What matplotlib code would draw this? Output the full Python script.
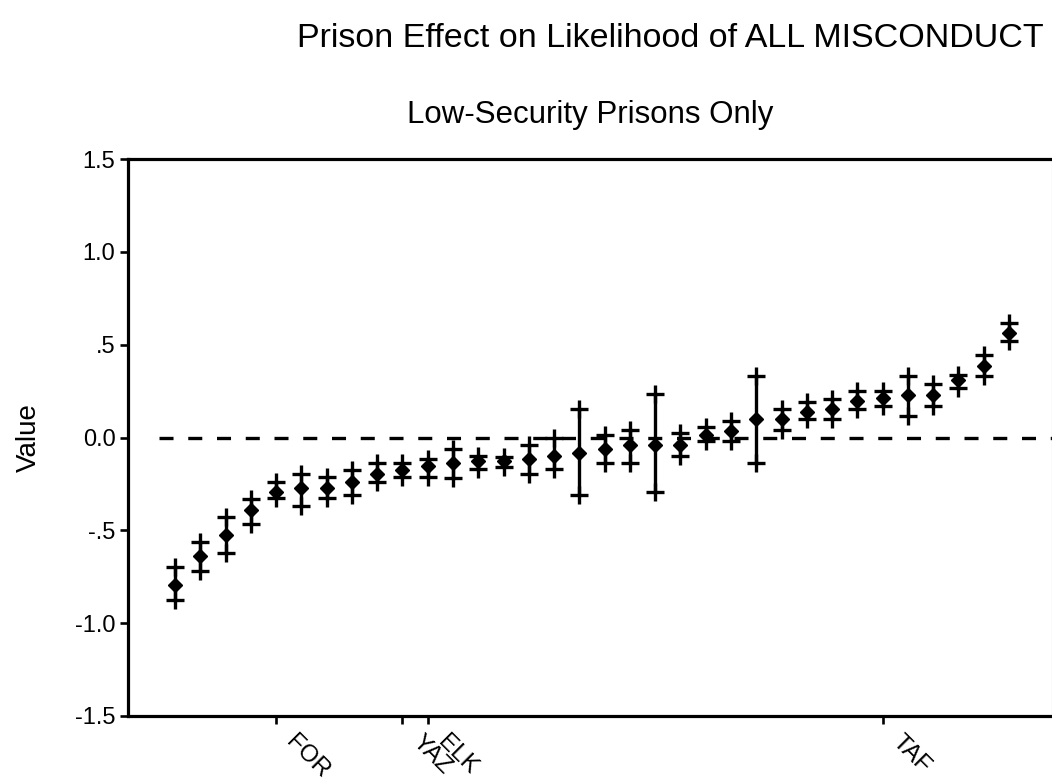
import matplotlib
matplotlib.use("Agg")
import matplotlib.pyplot as plt
import numpy as np

# Prison effects (point estimate with lower/upper interval), ordered by estimate
estimate = [-0.796, -0.640, -0.527, -0.392, -0.296, -0.274, -0.274, -0.237, -0.194,
            -0.177, -0.154, -0.139, -0.127, -0.127, -0.115, -0.100, -0.082, -0.061,
            -0.038, -0.038, -0.038, 0.016, 0.034, 0.097, 0.097, 0.137, 0.156, 0.195,
            0.213, 0.231, 0.231, 0.308, 0.387, 0.563]
upper = [-0.699, -0.565, -0.430, -0.333, -0.237, -0.194, -0.215, -0.177, -0.140,
         -0.140, -0.118, -0.064, -0.100, -0.104, -0.038, 0.000, 0.154, 0.011,
         0.039, 0.235, 0.025, 0.055, 0.091, 0.330, 0.151, 0.190, 0.210, 0.253,
         0.249, 0.330, 0.289, 0.339, 0.446, 0.617]
lower = [-0.876, -0.720, -0.624, -0.468, -0.328, -0.371, -0.328, -0.312, -0.237,
         -0.215, -0.213, -0.216, -0.172, -0.158, -0.199, -0.172, -0.312, -0.140,
         -0.136, -0.294, -0.097, -0.020, -0.020, -0.136, 0.039, 0.097, 0.097, 0.154,
         0.172, 0.115, 0.172, 0.267, 0.330, 0.518]

# Named prisons shown on the category axis
named_index = [4, 9, 10, 28]
named_labels = ["FOR", "YAZ", "ELK", "TAF"]

y_ticks = [-1.5, -1.0, -0.5, 0.0, 0.5, 1.0, 1.5]
y_tick_labels = ["-1.5", "-1.0", "-.5", "0.0", ".5", "1.0", "1.5"]

plt.rcParams["font.family"] = ["Liberation Sans", "DejaVu Sans"]
plt.rcParams["lines.scale_dashes"] = False

W, H = 1052, 784
fig = plt.figure(figsize=(W / 100, H / 100), dpi=100)

left_px, right_px, top_px, bottom_px = 128, 1051.5, 159, 716
ax = fig.add_axes([left_px / W, 1 - bottom_px / H,
                   (right_px - left_px) / W, (bottom_px - top_px) / H])

x = np.arange(len(estimate))
step_px = 834 / 33.0
ax.set_xlim(-(175 - left_px) / step_px, x[-1] + (right_px - 1009) / step_px)
ax.set_ylim(-1.5, 1.5)

# zero reference line
ax.axhline(0, xmin=(159 - left_px) / (right_px - left_px), color="black",
           lw=2.4, linestyle=(0, (10.1, 10.6)), zorder=1)

lw = 2.4
ax.vlines(x, lower, upper, color="black", lw=lw, zorder=2)
ax.plot(x, upper, linestyle="none", marker="+", ms=13, mew=lw, color="black", zorder=3)
ax.plot(x, lower, linestyle="none", marker="+", ms=13, mew=lw, color="black", zorder=3)
ax.plot(x, estimate, linestyle="none", marker="D", ms=7, mew=1, color="black", zorder=4)

ax.set_yticks(y_ticks)
ax.set_yticklabels(y_tick_labels, fontsize=17)

# category ticks for the named prisons; labels slanted down to the right
ax.set_xticks(named_index)
ax.set_xticklabels([])
for idx, name in zip(named_index, named_labels):
    ax.annotate(name, xy=(idx, 0), xycoords=("data", "axes fraction"),
                xytext=(9.5, -16.5), textcoords="offset points",
                fontsize=17.5, rotation=-45, rotation_mode="anchor",
                ha="left", va="center", annotation_clip=False)

ax.tick_params(axis="both", direction="out", length=6, width=1.9, color="black")
ax.tick_params(axis="y", pad=3)

for side in ["left", "bottom", "top"]:
    ax.spines[side].set_linewidth(2.3)
    ax.spines[side].set_color("black")
ax.spines["right"].set_linewidth(0.8)
ax.spines["right"].set_color("#b0b0b0")

fig.text(670.5 / W, 1 - 47 / H, "Prison Effect on Likelihood of ALL MISCONDUCT",
         fontsize=24.5, ha="center", va="baseline")
fig.text((left_px + right_px) / 2 / W, 1 - 123 / H, "Low-Security Prisons Only",
         fontsize=22.5, ha="center", va="baseline")
fig.text(29 / W, 1 - 438 / H, "Value", fontsize=20, rotation=90,
         ha="center", va="center")

fig.savefig("out.png", dpi=100)
